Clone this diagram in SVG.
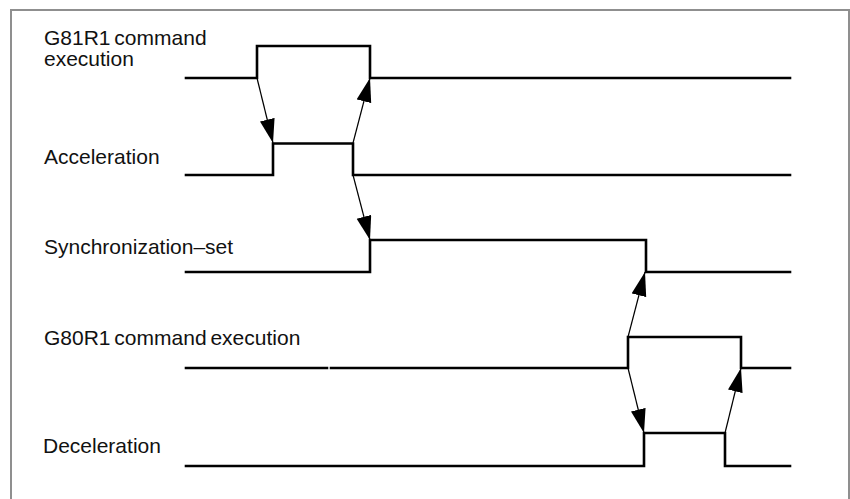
<svg xmlns="http://www.w3.org/2000/svg" width="850" height="499" viewBox="0 0 850 499">
<style>
.sig{fill:none;stroke:#000;stroke-width:2.6;stroke-linejoin:miter;stroke-linecap:square}
.lbl{font-family:"Liberation Sans",Arial,sans-serif;font-size:21px;fill:#111}
.arr{fill:none;stroke:#000;stroke-width:1.2}
</style>
<defs>
<marker id="ah" markerUnits="userSpaceOnUse" markerWidth="26" markerHeight="16" refX="24" refY="7.5" orient="auto">
<path d="M0,0 L24,7.5 L0,15 z" fill="#000"/>
</marker>
</defs>
<rect x="0" y="0" width="850" height="499" fill="#fff"/>
<rect x="11" y="10" width="838" height="510" fill="none" stroke="#8f8f8f" stroke-width="2"/>
<g id="g81r1">
<text class="lbl" x="44" y="45" word-spacing="-2">G81R1 command</text>
<text class="lbl" x="44" y="66">execution</text>
<path class="sig" d="M186,78 H257 V46 H370 V78 H790"/>
</g>
<g id="acceleration">
<text class="lbl" x="44" y="164">Acceleration</text>
<path class="sig" d="M186,175 H273 V143.5 H353 V175 H790"/>
</g>
<g id="sync">
<text class="lbl" x="44" y="254">Synchronization–set</text>
<path class="sig" d="M186,272 H370 V240 H646 V272 H790"/>
</g>
<g id="g80r1">
<text class="lbl" x="44" y="345" word-spacing="-2">G80R1 command execution</text>
<path class="sig" d="M186,368 H327"/>
<path class="sig" d="M331,368 H628 V337 H741 V368 H790"/>
</g>
<g id="deceleration">
<text class="lbl" x="43" y="453">Deceleration</text>
<path class="sig" d="M186,466 H644 V433 H725 V466 H790"/>
</g>
<g id="connectors">
<line class="arr" x1="257" y1="78" x2="273" y2="143" marker-end="url(#ah)"/>
<line class="arr" x1="353" y1="143" x2="370" y2="78" marker-end="url(#ah)"/>
<line class="arr" x1="353" y1="175" x2="370" y2="240" marker-end="url(#ah)"/>
<line class="arr" x1="628" y1="337" x2="645" y2="272" marker-end="url(#ah)"/>
<line class="arr" x1="628" y1="368" x2="644" y2="433" marker-end="url(#ah)"/>
<line class="arr" x1="725" y1="433" x2="741" y2="368" marker-end="url(#ah)"/>
</g>
</svg>
